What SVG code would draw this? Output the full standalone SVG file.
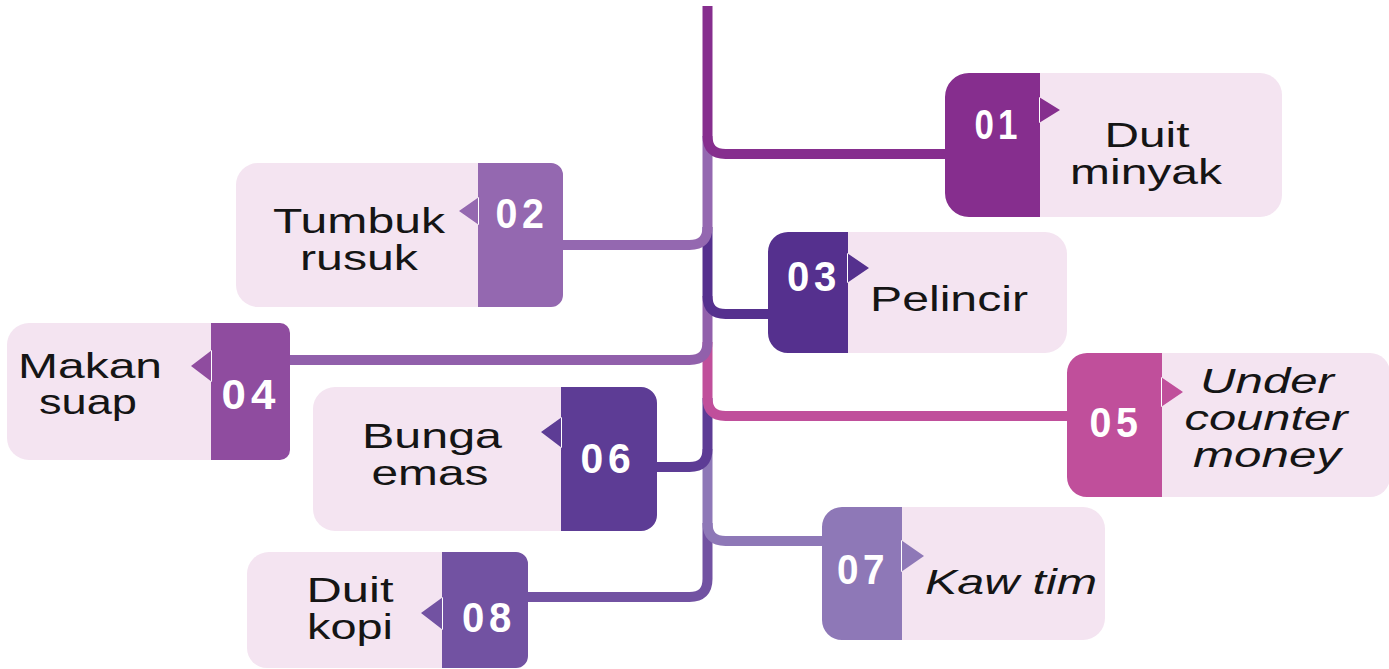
<svg xmlns="http://www.w3.org/2000/svg" width="1389" height="669" viewBox="0 0 1389 669">
<style>
.bg{fill:#ffffff}
.light{fill:#f4e4f1}
.conn{fill:none;stroke-width:10;stroke-linejoin:round}
.num{font-family:"Liberation Sans",Arial,sans-serif;font-weight:bold;font-size:43px;letter-spacing:5px;fill:#ffffff;text-anchor:middle}
.lbl{font-family:"Liberation Sans",Arial,sans-serif;font-size:35px;fill:#151515;text-anchor:middle}
.it{font-style:italic}
</style>
<rect class="bg" x="0" y="0" width="1389" height="669"/>
<g id="connectors">
  <path class="conn" stroke="#7252a2" d="M707.5,523 V579 Q707.5,597 689.5,597 H525"/>
  <path class="conn" stroke="#8e78b7" d="M707.5,449 V523 Q707.5,541 725.5,541 H826"/>
  <path class="conn" stroke="#5d3c95" d="M707.5,398 V449 Q707.5,467 689.5,467 H654"/>
  <path class="conn" stroke="#c04f9b" d="M707.5,342 V398 Q707.5,416 725.5,416 H1070"/>
  <path class="conn" stroke="#9160ab" d="M707.5,296 V342 Q707.5,360 689.5,360 H286"/>
  <path class="conn" stroke="#55308e" d="M707.5,227 V296 Q707.5,314 725.5,314 H772"/>
  <path class="conn" stroke="#9468b0" d="M707.5,136 V227 Q707.5,245 689.5,245 H560"/>
  <path class="conn" stroke="#862e8e" d="M707.5,6 V136 Q707.5,154 725.5,154 H950"/>
</g>
<g id="node01">
  <path class="light" d="M1040,73 H1260 A22,22 0 0 1 1282,95 V195 A22,22 0 0 1 1260,217 H1040 Z"/>
  <path fill="#862e8e" d="M1040,73 H969 A24,24 0 0 0 945,97 V193 A24,24 0 0 0 969,217 H1040 Z M1039,97 L1060,110 L1039,123 Z"/>
  <text class="num" x="998" y="139" textLength="47" lengthAdjust="spacingAndGlyphs">01</text>
  <text class="lbl" x="1147" y="147" textLength="85" lengthAdjust="spacingAndGlyphs">Duit</text>
  <text class="lbl" x="1146" y="184" textLength="152" lengthAdjust="spacingAndGlyphs">minyak</text>
</g>
<g id="node02">
  <path class="light" d="M478,163 H258 A22,22 0 0 0 236,185 V285 A22,22 0 0 0 258,307 H478 Z"/>
  <path fill="#9468b0" d="M478,163 H551 A12,12 0 0 1 563,175 V295 A12,12 0 0 1 551,307 H478 Z M479,197 L459,211 L479,225 Z"/>
  <text class="num" x="522" y="228" textLength="53" lengthAdjust="spacingAndGlyphs">02</text>
  <text class="lbl" x="359" y="233" textLength="172" lengthAdjust="spacingAndGlyphs">Tumbuk</text>
  <text class="lbl" x="359" y="270" textLength="118" lengthAdjust="spacingAndGlyphs">rusuk</text>
</g>
<g id="node03">
  <path class="light" d="M848,232 H1045 A22,22 0 0 1 1067,254 V331 A22,22 0 0 1 1045,353 H848 Z"/>
  <path fill="#55308e" d="M848,232 H788 A20,20 0 0 0 768,252 V333 A20,20 0 0 0 788,353 H848 Z M847,253 L869,268 L847,283 Z"/>
  <text class="num" x="814" y="291" textLength="54" lengthAdjust="spacingAndGlyphs">03</text>
  <text class="lbl" x="949" y="311" textLength="158" lengthAdjust="spacingAndGlyphs">Pelincir</text>
</g>
<g id="node04">
  <path class="light" d="M211,323 H29 A22,22 0 0 0 7,345 V438 A22,22 0 0 0 29,460 H211 Z"/>
  <path fill="#8f4c9f" d="M211,323 H280 A10,10 0 0 1 290,333 V450 A10,10 0 0 1 280,460 H211 Z M212,350 L191,366 L212,382 Z"/>
  <text class="num" x="251" y="409" textLength="59" lengthAdjust="spacingAndGlyphs">04</text>
  <text class="lbl" x="90" y="378" textLength="144" lengthAdjust="spacingAndGlyphs">Makan</text>
  <text class="lbl" x="88" y="414" textLength="98" lengthAdjust="spacingAndGlyphs">suap</text>
</g>
<g id="node05">
  <path class="light" d="M1162,353 H1370 A20,20 0 0 1 1390,373 V477 A20,20 0 0 1 1370,497 H1162 Z"/>
  <path fill="#c04f9b" d="M1162,353 H1087 A20,20 0 0 0 1067,373 V477 A20,20 0 0 0 1087,497 H1162 Z M1161,377 L1183,392 L1161,407 Z"/>
  <text class="num" x="1116" y="437" textLength="53" lengthAdjust="spacingAndGlyphs">05</text>
  <text class="lbl it" x="1267" y="393" textLength="134" lengthAdjust="spacingAndGlyphs">Under</text>
  <text class="lbl it" x="1266" y="430" textLength="163" lengthAdjust="spacingAndGlyphs">counter</text>
  <text class="lbl it" x="1267" y="467" textLength="148" lengthAdjust="spacingAndGlyphs">money</text>
</g>
<g id="node06">
  <path class="light" d="M561,387 H335 A22,22 0 0 0 313,409 V509 A22,22 0 0 0 335,531 H561 Z"/>
  <path fill="#5d3c95" d="M561,387 H641 A16,16 0 0 1 657,403 V515 A16,16 0 0 1 641,531 H561 Z M562,417 L541,432 L562,448 Z"/>
  <text class="num" x="608" y="473" textLength="55" lengthAdjust="spacingAndGlyphs">06</text>
  <text class="lbl" x="432" y="448" textLength="140" lengthAdjust="spacingAndGlyphs">Bunga</text>
  <text class="lbl" x="430" y="485" textLength="117" lengthAdjust="spacingAndGlyphs">emas</text>
</g>
<g id="node07">
  <path class="light" d="M902,507 H1083 A22,22 0 0 1 1105,529 V618 A22,22 0 0 1 1083,640 H902 Z"/>
  <path fill="#8e78b7" d="M902,507 H842 A20,20 0 0 0 822,527 V620 A20,20 0 0 0 842,640 H902 Z M901,540 L924,556 L901,572 Z"/>
  <text class="num" x="863" y="584" textLength="52" lengthAdjust="spacingAndGlyphs">07</text>
  <text class="lbl it" x="1011" y="594" textLength="172" lengthAdjust="spacingAndGlyphs">Kaw tim</text>
</g>
<g id="node08">
  <path class="light" d="M442,552 H269 A22,22 0 0 0 247,574 V648 A20,20 0 0 0 267,668 H442 Z"/>
  <path fill="#7252a2" d="M442,552 H516 A12,12 0 0 1 528,564 V656 A12,12 0 0 1 516,668 H442 Z M443,597 L421,613 L443,630 Z"/>
  <text class="num" x="489" y="632" textLength="54" lengthAdjust="spacingAndGlyphs">08</text>
  <text class="lbl" x="350" y="602" textLength="87" lengthAdjust="spacingAndGlyphs">Duit</text>
  <text class="lbl" x="350" y="639" textLength="86" lengthAdjust="spacingAndGlyphs">kopi</text>
</g>
</svg>
